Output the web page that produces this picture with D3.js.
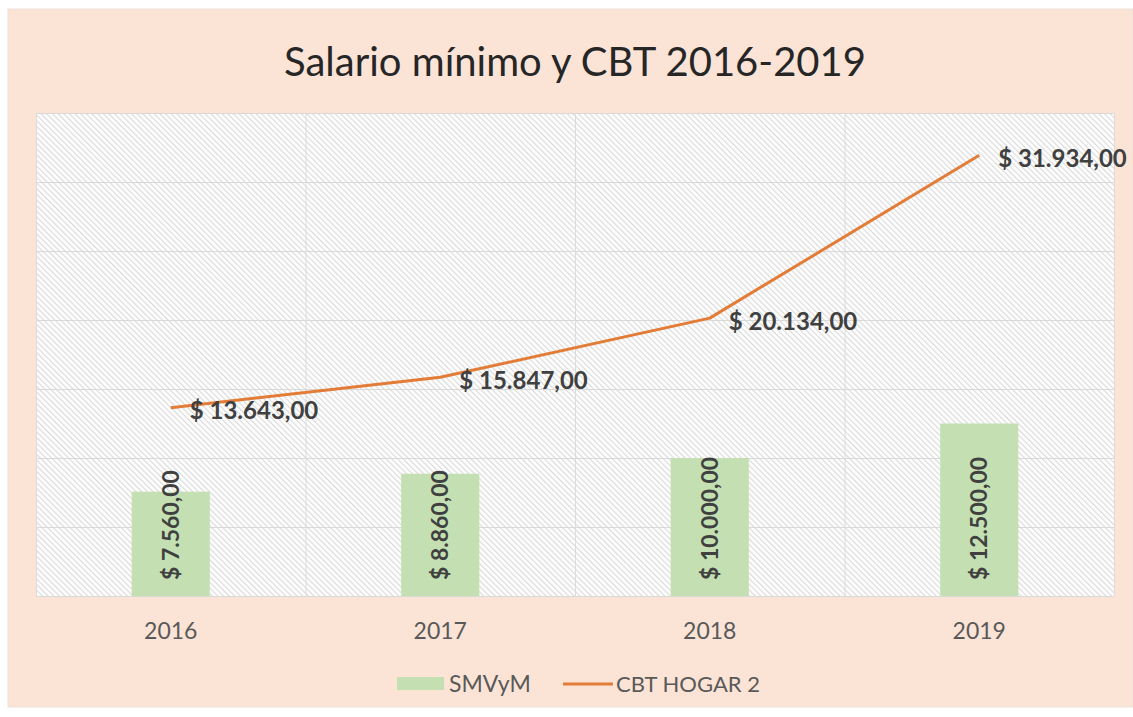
<!DOCTYPE html>
<html>
<head>
<meta charset="utf-8">
<script src="https://cdnjs.cloudflare.com/ajax/libs/d3/7.8.5/d3.min.js"></script>
<style>
  body { margin: 0; background: #fff; }
  svg { display: block; }
</style>
</head>
<body>
<div id="chart"></div>
<script>
// data
const years = ["2016", "2017", "2018", "2019"];
const smvym = [7560, 8860, 10000, 12500];
const cbtHogar2 = [13643, 15847, 20134, 31934];
const seriesNames = ["SMVyM", "CBT HOGAR 2"];
const yTicks = [0, 5000, 10000, 15000, 20000, 25000, 30000, 35000];

const width = 1133;
const height = 717;
const margin = { top: 113, right: 19, bottom: 121, left: 36 };
const font = "Lato, 'Open Sans', sans-serif";

// es-AR style currency: $ 13.643,00
const fmt = (v) => "$ " + d3.format(",.2f")(v).replace(/,/g, "#").replace(".", ",").replace(/#/g, ".");

const svg = d3.select("#chart")
    .append("svg")
    .attr("width", width)
    .attr("height", height);

// hatch pattern for the plot area
const defs = svg.append("defs");
defs.append("pattern")
    .attr("id", "hatch")
    .attr("patternUnits", "userSpaceOnUse")
    .attr("width", 4)
    .attr("height", 4)
    .attr("patternTransform", "rotate(-45)")
  .call(p => {
    p.append("rect").attr("width", 4).attr("height", 4).attr("fill", "#fdfdfd");
    p.append("line")
        .attr("x1", 0.5).attr("y1", 0).attr("x2", 0.5).attr("y2", 4)
        .attr("stroke", "#dadada").attr("stroke-width", 1.2);
  });

// chart background
svg.append("rect")
    .attr("x", 8).attr("y", 9)
    .attr("width", width - 8).attr("height", 698)
    .attr("fill", "#FBE4D6")
    .attr("stroke", "#ede0d8");

const x = d3.scaleBand()
    .domain(years)
    .range([margin.left, width - margin.right])
    .paddingInner(0.71)
    .paddingOuter(0.355);

const xCat = d3.scaleBand()
    .domain(years)
    .range([margin.left, width - margin.right]);

const y = d3.scaleLinear()
    .domain([0, 35000])
    .range([height - margin.bottom, margin.top]);

// plot area
svg.append("rect")
    .attr("x", margin.left).attr("y", margin.top)
    .attr("width", width - margin.left - margin.right)
    .attr("height", height - margin.top - margin.bottom)
    .attr("fill", "url(#hatch)");

// horizontal gridlines
svg.append("g")
    .selectAll("line")
    .data(yTicks)
    .join("line")
    .attr("x1", margin.left).attr("x2", width - margin.right)
    .attr("y1", d => y(d) + 0.5).attr("y2", d => y(d) + 0.5)
    .attr("stroke", "#d9d9d9");

// vertical gridlines between categories
const bounds = years.map(d => xCat(d)).concat([width - margin.right]);
svg.append("g")
    .selectAll("line")
    .data(bounds)
    .join("line")
    .attr("x1", d => d + 0.5).attr("x2", d => d + 0.5)
    .attr("y1", margin.top).attr("y2", height - margin.bottom)
    .attr("stroke", "#dcdcdc");

// bars
svg.append("g")
    .selectAll("rect")
    .data(smvym)
    .join("rect")
    .attr("x", (d, i) => x(years[i]))
    .attr("y", d => y(d))
    .attr("width", x.bandwidth())
    .attr("height", d => y(0) - y(d))
    .attr("fill", "#C4E0B3");

// bar labels, rotated, at inside base
svg.append("g")
    .selectAll("text")
    .data(smvym)
    .join("text")
    .attr("transform", (d, i) => "translate(" + (x(years[i]) + x.bandwidth() / 2) + "," + (y(0) - 16) + ") rotate(-90)")
    .attr("dy", "0.35em")
    .attr("text-anchor", "start")
    .attr("font-family", font)
    .attr("font-weight", "bold")
    .attr("font-size", 23)
    .attr("fill", "#404040")
    .text(d => fmt(d));

// line
const cx = (i) => xCat(years[i]) + xCat.bandwidth() / 2;
const line = d3.line()
    .x((d, i) => cx(i))
    .y(d => y(d));

svg.append("path")
    .datum(cbtHogar2)
    .attr("d", line)
    .attr("fill", "none")
    .attr("stroke", "#E27C37")
    .attr("stroke-width", 3)
    .attr("stroke-linejoin", "round");

// line labels, right of the points
svg.append("g")
    .selectAll("text")
    .data(cbtHogar2)
    .join("text")
    .attr("x", (d, i) => cx(i) + 19)
    .attr("y", d => y(d) + 3)
    .attr("dy", "0.35em")
    .attr("font-family", font)
    .attr("font-weight", "bold")
    .attr("font-size", 24)
    .attr("fill", "#404040")
    .text(d => fmt(d));

// x axis labels
svg.append("g")
    .selectAll("text")
    .data(years)
    .join("text")
    .attr("x", (d, i) => cx(i))
    .attr("y", 631)
    .attr("dy", "0.35em")
    .attr("text-anchor", "middle")
    .attr("font-family", font)
    .attr("font-size", 23)
    .attr("fill", "#595959")
    .text(d => d);

// title
svg.append("text")
    .attr("x", 575)
    .attr("y", 62)
    .attr("dy", "0.35em")
    .attr("text-anchor", "middle")
    .attr("font-family", font)
    .attr("font-size", 40)
    .attr("fill", "#262626")
    .text("Salario mínimo y CBT 2016-2019");

// legend
const legend = svg.append("g");
legend.append("rect")
    .attr("x", 397).attr("y", 677)
    .attr("width", 47).attr("height", 13)
    .attr("fill", "#C4E0B3");
legend.append("text")
    .attr("x", 449).attr("y", 684)
    .attr("dy", "0.35em")
    .attr("font-family", font)
    .attr("font-size", 23)
    .attr("fill", "#595959")
    .text(seriesNames[0]);
legend.append("line")
    .attr("x1", 563).attr("x2", 613)
    .attr("y1", 684).attr("y2", 684)
    .attr("stroke", "#E27C37")
    .attr("stroke-width", 3);
legend.append("text")
    .attr("x", 616).attr("y", 684)
    .attr("dy", "0.35em")
    .attr("font-family", font)
    .attr("font-size", 22)
    .attr("fill", "#595959")
    .text(seriesNames[1]);
</script>
</body>
</html>
